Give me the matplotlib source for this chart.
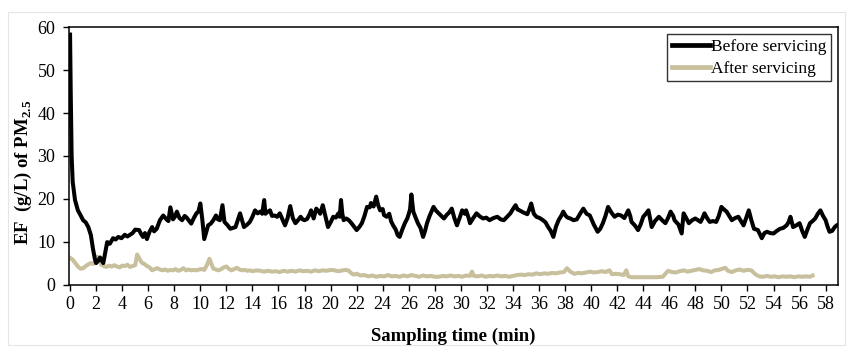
import matplotlib
matplotlib.use("Agg")
import matplotlib.pyplot as plt
from matplotlib.patches import Rectangle

plt.rcParams["font.family"] = ["Liberation Serif", "DejaVu Serif"]
plt.rcParams["mathtext.fontset"] = "custom"
plt.rcParams["mathtext.rm"] = "Liberation Serif"
plt.rcParams["mathtext.bf"] = "Liberation Serif:bold"

# Emission factor time series (minutes, g/L)
before_t = [
    0.0, 0.05, 0.12, 0.2, 0.38, 0.6, 0.8, 1.0, 1.2, 1.4, 1.6, 1.75, 1.9, 2.0, 2.15, 2.3, 2.45, 2.55, 2.7, 2.85,
    3.05, 3.3, 3.5, 3.7, 3.95, 4.2, 4.4, 4.6, 4.8, 5.0, 5.3, 5.45, 5.6, 5.75, 5.9, 6.1, 6.3, 6.45, 6.65, 6.9,
    7.15, 7.4, 7.55, 7.7, 7.9, 8.05, 8.2, 8.4, 8.6, 8.8, 8.95, 9.15, 9.3, 9.5, 9.7, 9.85, 10.0, 10.15, 10.3, 10.45,
    10.6, 10.8, 11.0, 11.2, 11.35, 11.5, 11.7, 11.85, 12.1, 12.3, 12.5, 12.7, 12.9, 13.05, 13.2, 13.35, 13.6, 13.8, 14.0, 14.2,
    14.4, 14.6, 14.75, 14.9, 15.0, 15.1, 15.35, 15.5, 15.7, 15.9, 16.1, 16.3, 16.5, 16.7, 16.9, 17.1, 17.3, 17.5, 17.7, 17.85,
    18.0, 18.2, 18.4, 18.5, 18.7, 18.9, 19.1, 19.2, 19.4, 19.6, 19.8, 20.0, 20.2, 20.4, 20.6, 20.7, 20.8, 20.9, 21.0, 21.2,
    21.4, 21.6, 21.8, 22.0, 22.2, 22.4, 22.6, 22.8, 23.0, 23.1, 23.3, 23.5, 23.65, 23.8, 24.0, 24.1, 24.3, 24.5, 24.65, 24.8,
    25.0, 25.15, 25.3, 25.5, 25.7, 25.9, 26.1, 26.2, 26.35, 26.5, 26.7, 26.9, 27.1, 27.25, 27.4, 27.6, 27.9, 28.1, 28.3, 28.5,
    28.7, 28.9, 29.1, 29.3, 29.5, 29.7, 29.9, 30.1, 30.3, 30.4, 30.6, 30.7, 30.95, 31.2, 31.45, 31.7, 31.95, 32.2, 32.5, 32.8,
    33.05, 33.3, 33.55, 33.8, 34.0, 34.2, 34.35, 34.5, 34.8, 35.1, 35.25, 35.4, 35.6, 35.8, 36.05, 36.3, 36.5, 36.7, 36.9, 37.1,
    37.3, 37.5, 37.7, 37.86, 38.05, 38.2, 38.4, 38.65, 38.9, 39.15, 39.4, 39.65, 39.9, 40.2, 40.5, 40.7, 40.9, 41.1, 41.3, 41.55,
    41.8, 42.05, 42.3, 42.55, 42.85, 43.0, 43.1, 43.35, 43.6, 43.8, 44.0, 44.2, 44.4, 44.55, 44.65, 44.9, 45.2, 45.45, 45.7, 45.9,
    46.1, 46.3, 46.4, 46.7, 46.95, 47.1, 47.3, 47.5, 47.75, 48.0, 48.2, 48.4, 48.55, 48.7, 48.9, 49.1, 49.35, 49.6, 49.8, 50.0,
    50.2, 50.4, 50.6, 50.8, 51.05, 51.3, 51.5, 51.7, 51.9, 52.1, 52.3, 52.5, 52.8, 53.1, 53.3, 53.5, 53.75, 54.0, 54.25, 54.5,
    54.75, 55.0, 55.15, 55.3, 55.5, 55.75, 56.0, 56.2, 56.4, 56.6, 56.8, 57.0, 57.2, 57.4, 57.6, 57.8, 58.0, 58.15, 58.3, 58.5,
    58.7, 58.85, 59.0,
]
before_ef = [
    58.3, 45.0, 30.0, 24.0, 19.7, 17.3, 16.2, 15.0, 14.5, 13.4, 11.5, 8.5, 6.0, 5.0, 5.5, 6.3, 5.5, 5.0, 7.5, 9.9,
    9.5, 10.8, 10.5, 11.1, 10.8, 11.6, 11.2, 11.6, 12.0, 12.8, 12.7, 11.8, 11.1, 12.0, 10.6, 12.3, 13.4, 12.4, 13.0, 15.0,
    16.1, 15.2, 14.8, 18.0, 15.2, 15.8, 17.0, 15.5, 15.0, 16.0, 15.6, 14.8, 14.2, 15.5, 16.6, 17.0, 18.9, 15.2, 10.6, 12.2,
    13.8, 14.2, 15.0, 16.1, 15.2, 15.0, 18.5, 14.6, 13.8, 13.0, 13.2, 13.4, 15.2, 16.6, 15.0, 13.4, 14.0, 14.6, 15.8, 17.3,
    16.6, 17.0, 16.5, 19.7, 16.5, 16.8, 17.3, 16.0, 16.1, 15.8, 16.6, 15.2, 13.8, 15.5, 18.3, 15.5, 14.3, 15.0, 15.8, 15.2,
    15.0, 15.3, 16.5, 17.3, 15.4, 17.7, 17.0, 16.5, 18.5, 16.0, 13.4, 14.5, 15.8, 15.6, 16.6, 15.8, 19.7, 16.5, 15.0, 15.4,
    15.0, 14.3, 13.5, 12.7, 13.4, 14.3, 16.0, 18.1, 18.0, 19.0, 18.2, 20.5, 18.5, 17.3, 17.6, 16.2, 15.8, 16.5, 14.7, 13.8,
    12.8, 11.5, 11.1, 12.8, 14.3, 15.5, 17.5, 21.0, 17.0, 15.8, 14.3, 13.2, 11.1, 12.5, 14.3, 16.0, 18.1, 17.2, 16.6, 16.0,
    15.4, 16.2, 16.8, 17.7, 15.5, 13.8, 15.5, 17.3, 16.5, 17.3, 15.5, 14.3, 15.5, 16.6, 15.9, 15.4, 15.6, 15.0, 15.5, 15.8,
    15.2, 15.0, 15.8, 16.6, 17.6, 18.5, 17.5, 17.3, 16.8, 16.4, 17.5, 18.9, 16.5, 15.8, 15.5, 15.0, 14.5, 13.4, 12.5, 11.1,
    13.5, 15.0, 16.0, 17.0, 16.0, 15.6, 15.4, 15.0, 15.2, 16.5, 17.7, 16.5, 16.1, 14.0, 12.3, 13.0, 14.3, 16.0, 18.1, 16.8,
    15.8, 16.3, 16.1, 15.5, 17.3, 16.0, 14.6, 13.8, 12.7, 14.0, 15.8, 16.5, 17.3, 15.0, 13.4, 14.8, 15.8, 15.0, 14.3, 15.5,
    17.0, 16.0, 15.0, 14.0, 11.9, 16.6, 15.5, 14.3, 15.0, 15.4, 15.0, 14.6, 15.5, 16.6, 15.5, 14.6, 14.8, 14.6, 16.0, 18.1,
    17.5, 17.0, 16.0, 15.0, 15.5, 15.8, 14.8, 13.8, 15.5, 17.3, 15.0, 13.0, 12.7, 10.8, 12.0, 12.3, 12.0, 11.9, 12.5, 13.0,
    13.2, 13.8, 14.5, 15.8, 13.4, 13.8, 14.3, 12.5, 11.1, 12.8, 14.3, 14.8, 15.4, 16.5, 17.3, 16.0, 15.0, 13.5, 12.3, 12.5,
    13.4, 13.8, 14.0,
]

after_t = [
    0.0, 0.2, 0.4, 0.6, 0.8, 1.0, 1.2, 1.4, 1.6, 1.8, 1.95, 2.1, 2.25, 2.4, 2.6, 2.8, 3.0, 3.2, 3.4, 3.6,
    3.8, 4.0, 4.2, 4.4, 4.6, 4.8, 5.0, 5.15, 5.3, 5.5, 5.7, 5.9, 6.1, 6.3, 6.5, 6.7, 6.9, 7.1, 7.3, 7.5,
    7.7, 7.9, 8.1, 8.3, 8.5, 8.7, 8.9, 9.1, 9.3, 9.5, 9.7, 9.9, 10.1, 10.3, 10.5, 10.7, 10.85, 11.0, 11.2, 11.4,
    11.6, 11.8, 12.0, 12.2, 12.4, 12.6, 12.8, 13.0, 13.2, 13.4, 13.6, 13.8, 14.0, 14.3, 14.6, 14.9, 15.2, 15.5, 15.8, 16.1,
    16.4, 16.7, 17.0, 17.3, 17.6, 17.9, 18.2, 18.5, 18.8, 19.1, 19.4, 19.7, 20.0, 20.3, 20.6, 20.9, 21.2, 21.4, 21.6, 21.8,
    22.0, 22.3, 22.6, 22.9, 23.2, 23.5, 23.8, 24.1, 24.4, 24.7, 25.0, 25.3, 25.6, 25.9, 26.2, 26.5, 26.8, 27.1, 27.4, 27.7,
    28.0, 28.3, 28.6, 28.9, 29.2, 29.5, 29.8, 30.1, 30.4, 30.7, 30.85, 31.0, 31.3, 31.6, 31.9, 32.2, 32.5, 32.8, 33.1, 33.4,
    33.7, 34.0, 34.3, 34.6, 34.9, 35.2, 35.5, 35.8, 36.1, 36.4, 36.7, 37.0, 37.3, 37.6, 37.9, 38.15, 38.4, 38.7, 39.0, 39.3,
    39.6, 39.9, 40.2, 40.5, 40.8, 41.1, 41.4, 41.6, 41.9, 42.2, 42.5, 42.7, 42.85, 43.1, 43.5, 44.0, 44.5, 45.0, 45.5, 45.7,
    45.9, 46.2, 46.5, 46.8, 47.1, 47.4, 47.7, 48.0, 48.3, 48.6, 48.9, 49.2, 49.5, 49.8, 50.1, 50.3, 50.5, 50.8, 51.1, 51.4,
    51.7, 52.0, 52.3, 52.6, 52.9, 53.2, 53.5, 53.8, 54.1, 54.4, 54.7, 55.0, 55.3, 55.6, 55.9, 56.2, 56.5, 56.8, 57.0,
]
after_ef = [
    6.2, 5.8, 5.0, 4.2, 3.7, 3.8, 4.3, 4.7, 5.0, 4.8, 5.5, 6.5, 5.8, 4.6, 4.3, 4.1, 4.4, 4.2, 4.5, 4.2,
    4.0, 4.4, 4.3, 4.6, 4.1, 4.3, 4.5, 7.0, 6.2, 5.1, 4.8, 4.3, 4.0, 3.3, 3.6, 3.8, 3.5, 3.3, 3.5, 3.2,
    3.4, 3.3, 3.6, 3.2, 3.4, 3.8, 3.3, 3.5, 3.3, 3.4, 3.3, 3.5, 3.6, 3.4, 4.5, 6.0, 4.8, 3.7, 3.5, 3.3,
    3.6, 4.0, 4.2, 3.6, 3.3, 3.6, 3.9, 3.5, 3.3, 3.4, 3.2, 3.3, 3.1, 3.3, 3.2, 3.0, 3.2, 3.0, 3.1, 2.9,
    3.2, 3.0, 3.2, 3.0, 3.3, 3.1, 3.2, 3.0, 3.3, 3.1, 3.3, 3.2, 3.4, 3.3, 3.1, 3.3, 3.4, 3.2, 2.6, 2.3,
    2.5, 2.1, 2.2, 1.9, 2.1, 1.8, 2.0, 1.9, 2.2, 1.9, 2.0, 1.8, 2.1, 1.9, 2.2, 2.0, 1.8, 2.1, 1.9, 2.0,
    1.8, 1.8, 2.0, 1.9, 2.1, 1.9, 2.0, 1.8, 2.1, 2.0, 3.0, 2.0, 1.9, 2.1, 1.8, 2.0, 1.9, 2.1, 1.9, 2.0,
    1.8, 2.0, 2.2, 2.3, 2.2, 2.4, 2.3, 2.6, 2.4, 2.6, 2.5, 2.7, 2.6, 2.8, 2.9, 3.8, 3.0, 2.5, 2.7, 2.6,
    2.8, 3.0, 2.8, 2.9, 3.1, 2.9, 3.3, 2.4, 2.5, 2.4, 2.2, 3.3, 1.9, 1.7, 1.7, 1.7, 1.7, 1.7, 1.8, 2.5,
    3.2, 2.9, 2.8, 3.1, 3.3, 3.0, 3.2, 3.4, 3.6, 3.3, 3.2, 2.9, 3.3, 3.4, 3.7, 3.9, 3.2, 2.9, 3.3, 3.5,
    3.2, 3.4, 3.3, 2.4, 1.9, 1.8, 2.0, 1.8, 1.9, 1.7, 1.9, 1.8, 1.9, 1.7, 1.9, 1.8, 1.9, 1.8, 2.1,
]

x_ticks = list(range(0, 59, 2))
y_ticks = [0, 10, 20, 30, 40, 50, 60]

fig = plt.figure(figsize=(8.47, 3.47), dpi=100)
fig.patches.append(Rectangle((8 / 847, 2 / 347), 837 / 847, 333 / 347, transform=fig.transFigure,
                             fill=False, edgecolor="#e6e6e0", linewidth=0.8))
ax = fig.add_axes([68.5 / 847, 1 - 284.5 / 347, (838 - 68.5) / 847, (284.5 - 27.3) / 347])

ax.plot(before_t, before_ef, color="black", linewidth=2.9, solid_joinstyle="round", label="Before servicing", zorder=3)
ax.plot(after_t, after_ef, color="#c8bf9c", linewidth=2.9, solid_joinstyle="round", label="After servicing", zorder=2)

ax.set_xlim(-0.12, 58.95)
ax.set_ylim(0, 60)
ax.set_xticks(x_ticks)
ax.set_yticks(y_ticks)
ax.tick_params(axis="both", direction="out", length=4.5, width=1.0, labelsize=13, colors="black")
ax.tick_params(axis="x", pad=4)
ax.tick_params(axis="y", pad=5)
for s in ax.spines.values():
    s.set_linewidth(1.1)
    s.set_color("black")

ax.set_xlabel("Sampling time (min)", fontsize=13.5, fontweight="bold", labelpad=10)
ax.set_ylabel(r"EF  (g/L) of PM$_{\mathbf{2.5}}$", fontsize=13.5, fontweight="bold")
ax.yaxis.set_label_coords(-0.045, 0.437)

leg = ax.legend(loc="upper right", fontsize=12.5, frameon=True, fancybox=False, edgecolor="black",
                borderaxespad=0.4, handlelength=2.2, handletextpad=0.05, borderpad=0.28,
                labelspacing=0.3)
leg.get_frame().set_linewidth(1.0)
for line in leg.get_lines():
    line.set_linewidth(3.4)

fig.savefig("out.png", dpi=100)
